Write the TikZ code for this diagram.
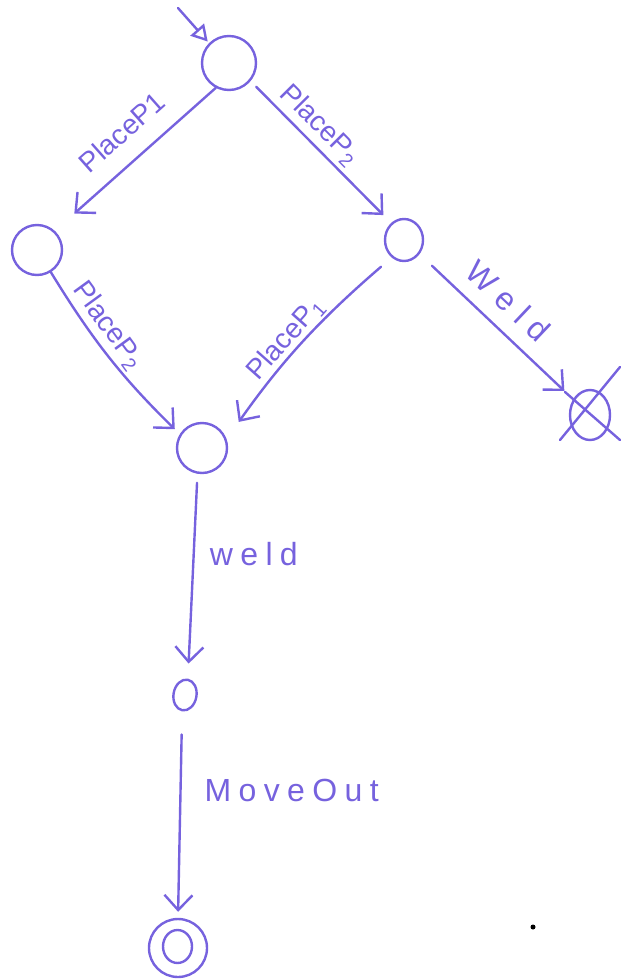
\documentclass[tikz,border=0pt]{standalone}
\usepackage{fontspec}
\setmainfont{Liberation Sans}
\usetikzlibrary{arrows.meta,shapes.geometric,calc}
\definecolor{ink}{RGB}{118,98,222}
\begin{document}
\begin{tikzpicture}[x=1pt,y=-1pt,
  inkline/.style={draw=ink, line width=2.4pt, line cap=round, line join=round},
  state/.style={circle, inkline, inner sep=0pt},
  oval/.style={ellipse, inkline, inner sep=0pt},
  arr/.style={inkline, -{Straight Barb[length=15pt,width=28pt,line width=2.4pt]}},
  startarr/.style={inkline, -{Triangle[open,length=16pt,width=18pt,line width=2.4pt]}},
  lab/.style={text=ink, inner sep=0pt, font=\fontsize{28}{30}\selectfont},
  labwide/.style={text=ink, inner sep=0pt, font=\fontsize{32}{34}\selectfont\addfontfeature{LetterSpace=23}},
  labweld/.style={text=ink, inner sep=0pt, font=\fontsize{32}{34}\selectfont\addfontfeature{LetterSpace=30}},
]
\useasboundingbox (0,0) rectangle (621,980);

% states
\node[state, minimum size=54pt] (top) at (229,63) {};
\node[state, minimum size=50pt] (left) at (37,250) {};
\node[oval, minimum width=38pt, minimum height=42pt] (right) at (404,240) {};
\node[state, minimum size=50pt] (center) at (202,448) {};
\node[oval, minimum width=40pt, minimum height=50pt] (X) at (590,415) {};
\node[oval, minimum width=23pt, minimum height=31pt, rotate=-10] (O) at (185,695) {};
\node[state, minimum size=58pt] (final) at (178,948) {};
\node[oval, minimum width=29pt, minimum height=33pt] (finalin) at (177.5,946.5) {};

% start arrow
\coordinate (s) at (178,8);
\draw[startarr, shorten >=2pt] (s) -- (top.135);

% transitions
\draw[arr, shorten >=26pt] (top.242) -- node[lab, sloped, pos=0.463, above=18pt] {PlaceP1} (left.47);
\draw[arr, shorten <=8pt, shorten >=11pt] (top.-40) -- node[lab, sloped, pos=0.40, above=4pt] {PlaceP\textsubscript{2}} (right.127);
\draw[arr, shorten >=7pt] (left.-58) to[bend right=7] node[lab, sloped, pos=0.36, above=4pt] {PlaceP\textsubscript{2}} (center.148);
\draw[arr, shorten <=14pt, shorten >=21pt] (right.235) to[bend right=7] node[lab, sloped, pos=0.54, above=1pt] {PlaceP\textsubscript{1}} (center.20);
\draw[arr, shorten <=17pt, shorten >=12pt] (right.-42) -- node[labweld, sloped, pos=0.457, above=14pt] {Weld} (X.137);
\draw[arr, shorten <=9pt, shorten >=15pt] (center.-100) -- node[labwide, pos=0.39, anchor=west, xshift=15pt] {weld} (O.north);
\draw[arr, shorten <=23pt, shorten >=6pt] (O.south) -- node[labwide, pos=0.383, anchor=west, xshift=23pt] {MoveOut} (final.north);

% cross over the failure state
\draw[inkline] ($(X)+(-25,-23)$) -- ($(X)+(30,25)$);
\draw[inkline] ($(X)+(-30,25)$) -- ($(X)+(30,-48)$);

% stray dot
\fill (533,927) circle (2.5pt);
\end{tikzpicture}
\end{document}
